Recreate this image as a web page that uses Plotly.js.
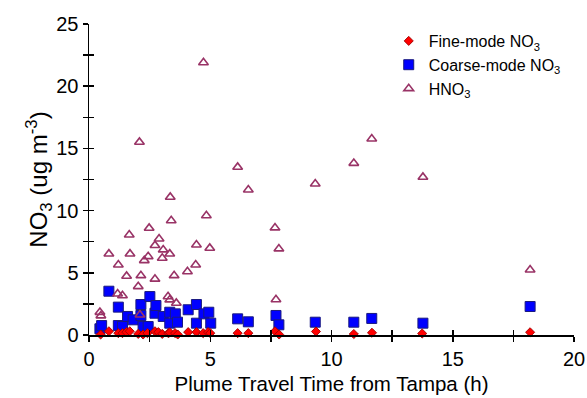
<!DOCTYPE html>
<html>
<head>
<meta charset="utf-8">
<script src="https://cdn.plot.ly/plotly-3.0.1.min.js"></script>
<style>
  html, body { margin: 0; padding: 0; background: #fff; }
  #chart { width: 587px; height: 398px; }
</style>
</head>
<body>
<div id="chart"></div>
<script>
// Plume travel time (h) and nitrate concentrations (ug m-3)
const fineTime = [0.48, 0.82, 1.21, 1.38, 1.54, 1.68, 2.03, 2.23, 2.41, 2.72, 2.86, 3.02, 3.27, 3.33, 3.55, 3.66,
  4.09, 4.43, 4.71, 4.91, 5.0, 6.13, 6.57, 7.67, 7.84, 9.36, 10.92, 11.67, 13.74, 18.19];
const fineNO3 = [0.04, 0.30, 0.15, 0.15, 0.23, 0.30, 0.09, 0.04, 0.15, 0.30, 0.23, 0.09, 0.15, 0.20, 0.15, 0.04,
  0.23, 0.23, 0.15, 0.23, 0.15, 0.15, 0.15, 0.30, 0.04, 0.28, 0.08, 0.18, 0.12, 0.22];

const coarseTime = [0.45, 0.52, 0.82, 1.21, 1.21, 1.38, 1.59, 1.82, 2.14, 2.14, 2.23, 2.44, 2.51, 2.72, 2.76,
  3.06, 3.33, 3.33, 3.56, 3.65, 4.09, 4.43, 4.43, 4.74, 4.94, 5.02, 6.13, 6.57, 7.71, 7.83, 9.33, 10.92,
  11.66, 13.77, 18.19];
const coarseNO3 = [0.50, 0.76, 3.52, 2.24, 0.76, 0.68, 1.49, 1.22, 2.45, 1.57, 0.68, 0.68, 3.09, 1.75, 2.37,
  1.49, 1.83, 0.95, 1.70, 1.03, 2.03, 2.45, 0.95, 1.70, 1.83, 0.95, 1.30, 1.06, 1.57, 0.82, 1.03, 1.03,
  1.33, 0.95, 2.29];

const hno3Time = [0.45, 0.49, 0.82, 1.18, 1.21, 1.38, 1.55, 1.66, 1.69, 2.03, 2.08, 2.10, 2.14, 2.28, 2.44,
  2.48, 2.72, 2.72, 2.89, 3.02, 3.06, 3.26, 3.33, 3.33, 3.35, 3.39, 3.51, 3.60, 4.06, 4.40, 4.43, 4.72,
  4.84, 4.98, 6.13, 6.57, 7.67, 7.71, 7.83, 9.33, 10.92, 11.66, 13.77, 18.19];
const hno3 = [1.83, 1.55, 6.52, 3.31, 5.64, 3.17, 4.73, 8.05, 6.52, 3.90, 15.50, 1.62, 4.78, 5.99, 6.31,
  8.59, 7.20, 4.50, 7.73, 6.18, 6.85, 3.09, 2.83, 6.52, 11.08, 9.20, 4.78, 2.56, 5.10, 5.64, 7.25, 21.90,
  9.60, 6.98, 13.49, 11.67, 8.62, 2.85, 6.93, 12.15, 13.81, 15.77, 12.69, 5.24];

const xRange = [0, 20];
const yRange = [0, 25];

const FONT = 'Arial, "Liberation Sans", sans-serif';

// Coarse squares sit on the base axes; diamonds and triangles go on the
// overlay axes so they are drawn above the squares.
const traces = [
  {
    name: 'Coarse-mode NO<sub>3</sub>',
    x: coarseTime, y: coarseNO3,
    type: 'scatter', mode: 'markers', cliponaxis: false, legendrank: 2,
    marker: { symbol: 'square', size: 10, color: '#0000ff', line: { color: '#1a1a80', width: 1 } }
  },
  {
    name: 'Fine-mode NO<sub>3</sub>',
    x: fineTime, y: fineNO3, xaxis: 'x2', yaxis: 'y2',
    type: 'scatter', mode: 'markers', cliponaxis: false, legendrank: 1,
    marker: { symbol: 'diamond', size: 7, color: '#ff0000', line: { color: '#a00000', width: 0.9 } }
  },
  {
    name: 'HNO<sub>3</sub>',
    x: hno3Time, y: hno3, xaxis: 'x2', yaxis: 'y2',
    type: 'scatter', mode: 'markers', cliponaxis: false, legendrank: 3,
    marker: { symbol: 'triangle-up-open', size: 8.5, color: '#993366', line: { color: '#993366', width: 1.6 } }
  }
];

const tickFont = { family: FONT, size: 20, color: '#000' };

// outer half of every tick on the base axes, inner half on the overlay axes
function tickSide(side) {
  return {
    ticks: side, ticklen: 5, tickwidth: 1.5, tickcolor: '#000',
    minor: { dtick: 2.5, ticks: side, ticklen: 5, tickwidth: 1.5, tickcolor: '#000' }
  };
}

const layout = {
  width: 587, height: 398,
  margin: { l: 89, r: 13, t: 24, b: 63 },
  paper_bgcolor: '#fff', plot_bgcolor: 'rgba(0,0,0,0)',
  font: { family: FONT, color: '#000' },
  showlegend: true,
  legend: {
    x: 0.618, y: 1.0, xanchor: 'left', yanchor: 'top',
    bgcolor: 'rgba(0,0,0,0)', borderwidth: 0,
    font: { family: FONT, size: 16, color: '#000' },
    traceorder: 'normal'
  },
  xaxis: Object.assign({
    range: xRange, dtick: 5, tick0: 0,
    showgrid: false, zeroline: false,
    showline: true, linecolor: '#000', linewidth: 1.5,
    tickfont: tickFont,
    title: { text: 'Plume Travel Time from Tampa (h)', font: { family: FONT, size: 20.5, color: '#000' }, standoff: 8 }
  }, tickSide('outside')),
  yaxis: Object.assign({
    range: yRange, dtick: 5, tick0: 0,
    showgrid: false, zeroline: false,
    showline: true, linecolor: '#000', linewidth: 1.5,
    tickfont: tickFont,
    title: { text: 'NO<sub>3</sub> (ug m<sup>-3</sup>)', font: { family: FONT, size: 24, color: '#000' }, standoff: 0 }
  }, tickSide('outside')),
  xaxis2: Object.assign({
    overlaying: 'x', range: xRange, dtick: 5, tick0: 0,
    showgrid: false, zeroline: false, showline: false, showticklabels: false
  }, tickSide('inside')),
  yaxis2: Object.assign({
    overlaying: 'y', range: yRange, dtick: 5, tick0: 0,
    showgrid: false, zeroline: false, showline: false, showticklabels: false
  }, tickSide('inside'))
};

Plotly.newPlot('chart', traces, layout, { staticPlot: true, displayModeBar: false });
</script>
</body>
</html>
